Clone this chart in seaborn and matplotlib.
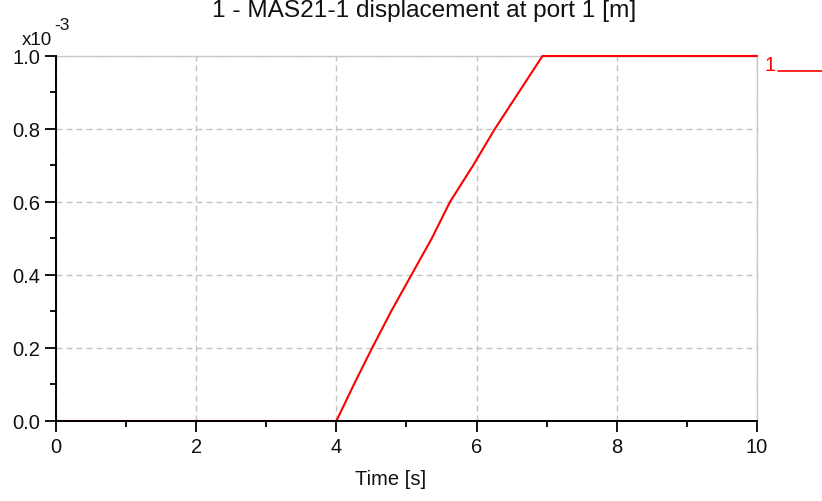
import matplotlib
matplotlib.use("Agg")
import matplotlib.pyplot as plt
import seaborn as sns
import pandas as pd
from matplotlib.ticker import MultipleLocator, FuncFormatter
from matplotlib.lines import Line2D

# Displacement of MAS21-1 at port 1
time_s = [0.0, 4.0, 4.25, 4.51, 4.78, 5.07, 5.36, 5.62, 5.95, 6.26, 6.60, 6.94, 10.0]
displacement_m = [0.0, 0.0, 0.1e-3, 0.2e-3, 0.3e-3, 0.4e-3, 0.5e-3, 0.6e-3,
                  0.7e-3, 0.8e-3, 0.9e-3, 1.0e-3, 1.0e-3]

title = "1 - MAS21-1 displacement at port 1 [m]"
x_label = "Time [s]"
series_label = "1"

sns.set_theme(style="white")
plt.rcParams["font.family"] = ["Liberation Sans", "DejaVu Sans"]

df = pd.DataFrame({"time": time_s, "disp": displacement_m})

fig = plt.figure(figsize=(8.22, 5.02), dpi=100)
ax = fig.add_axes([0.0681, 0.1594, 0.8528, 0.7271])

sns.lineplot(data=df, x="time", y="disp", color="#ff0000", linewidth=1.5,
             ax=ax, zorder=2.7, clip_on=False)

ax.set_xlim(0, 10)
ax.set_ylim(0, 1.0e-3)
ax.xaxis.set_major_locator(MultipleLocator(2))
ax.xaxis.set_minor_locator(MultipleLocator(1))
ax.yaxis.set_major_locator(MultipleLocator(0.2e-3))
ax.yaxis.set_minor_locator(MultipleLocator(0.1e-3))
ax.yaxis.set_major_formatter(FuncFormatter(lambda v, p: f"{v * 1e3:.1f}"))
ax.xaxis.set_major_formatter(FuncFormatter(lambda v, p: f"{v:.0f}"))

ax.grid(True, which="major", color="#c4c4c4", linestyle=(0, (4.3, 2.9)), linewidth=1.0)
ax.set_axisbelow(True)

for side in ("top", "right"):
    ax.spines[side].set_color("#c8c8c8")
    ax.spines[side].set_linewidth(1.0)
for side in ("left", "bottom"):
    ax.spines[side].set_color("black")
    ax.spines[side].set_linewidth(1.4)
    ax.spines[side].set_zorder(3)

ax.tick_params(axis="both", which="major", direction="out", length=8, width=1.3,
               color="black", labelsize=14.5, labelcolor="#111111", pad=3.5,
               bottom=True, left=True)
ax.tick_params(axis="both", which="minor", direction="out", length=4, width=1.3,
               color="black", bottom=True, left=True)

ax.set_xlabel("")
ax.set_ylabel("")

fig.text(424 / 822, 1 - 17 / 502, title, fontsize=17.6, color="#111111",
         ha="center", va="baseline")
fig.text(391 / 822, 1 - 485 / 502, x_label, fontsize=14.5, color="#111111",
         ha="center", va="baseline")
# axis multiplier, drawn as base and raised exponent
fig.text(22 / 822, 1 - 45 / 502, "x10", fontsize=13.5, color="#111111",
         ha="left", va="baseline")
fig.text(54 / 822, 1 - 30 / 502, "-3", fontsize=12.5, color="#111111",
         ha="left", va="baseline")

# series key on the right
fig.text(764 / 822, 1 - 71 / 502, series_label, color="#ff0000", fontsize=14.5,
         ha="left", va="baseline")
fig.add_artist(Line2D([778 / 822, 1.0], [1 - 72 / 502, 1 - 72 / 502],
                      color="#ff0000", linewidth=1.2, transform=fig.transFigure))

fig.savefig("out.png", dpi=100)
